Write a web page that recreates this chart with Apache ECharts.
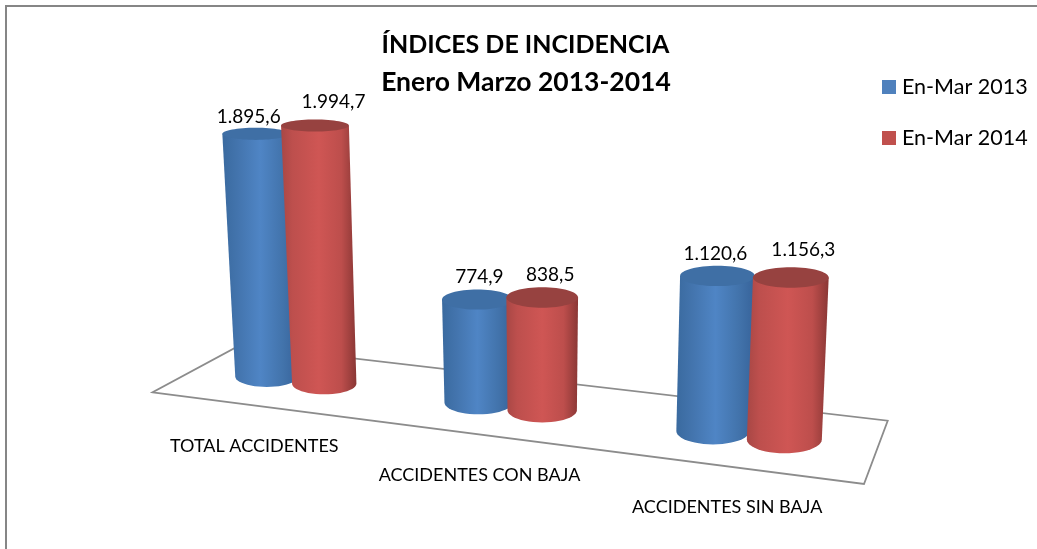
<!DOCTYPE html>
<html>
<head>
<meta charset="utf-8">
<style>html,body{margin:0;padding:0;background:#fff}#c{width:1037px;height:549px}</style>
<script src="https://cdn.jsdelivr.net/npm/echarts@6/dist/echarts.min.js"></script>
</head>
<body>
<div id="c"></div>
<script>
const categories = ['TOTAL ACCIDENTES', 'ACCIDENTES CON BAJA', 'ACCIDENTES SIN BAJA'];
const seriesNames = ['En-Mar 2013', 'En-Mar 2014'];
const values2013 = [1895.6, 774.9, 1120.6];
const values2014 = [1994.7, 838.5, 1156.3];
const titleLines = ['ÍNDICES DE INCIDENCIA', 'Enero Marzo 2013-2014'];

// Perspective frame of the 3D floor: front-left, front-right, back-right, back-left
const floorQuad = [[152.7, 392.3], [864, 484], [887.7, 420.7], [240, 345.2]];
const plotGrid = { left: 196, width: 680, top: 100, height: 280 };
const FONT = 'Lato';
const palette = ['#4F81BD', '#C0504D'];
const bodyStops = [
  [[0, '#3a6a9f'], [0.2, '#4374ad'], [0.5, '#4f85c5'], [0.8, '#4273ab'], [1, '#37639a']],
  [[0, '#a84745'], [0.15, '#bd4f4d'], [0.5, '#cf5654'], [0.8, '#bd4e4c'], [1, '#8a3735']]
];
const capColors = ['#3f6fa5', '#974240'];
// small per-bar pixel tweaks of the projection and of the value labels
const barShift = [[-4, -4], [-5, -4], [-3, -0.5]];
const labelNudge = [[[-7, 4], [18.5, -3]], [[2, 2], [8, 3]], [[-2, 3.5], [12.5, -2]]];

function homography(q) {
  const [x0, y0] = q[0], [x1, y1] = q[1], [x2, y2] = q[2], [x3, y3] = q[3];
  const dx1 = x1 - x2, dx2 = x3 - x2, sx = x0 - x1 + x2 - x3;
  const dy1 = y1 - y2, dy2 = y3 - y2, sy = y0 - y1 + y2 - y3;
  const den = dx1 * dy2 - dx2 * dy1;
  const g = (sx * dy2 - dx2 * sy) / den, h = (dx1 * sy - sx * dy1) / den;
  const a = x1 - x0 + g * x1, b = x3 - x0 + h * x3, d = y1 - y0 + g * y1, e = y3 - y0 + h * y3;
  return (u, v) => {
    const w = g * u + h * v + 1;
    return [(a * u + b * v + x0) / w, (d * u + e * v + y0) / w];
  };
}
const project = homography(floorQuad);
const lerp = (a, b, t) => a + (b - a) * t;
const formatEs = v => {
  const [i, f] = v.toFixed(1).split('.');
  return i.replace(/\B(?=(\d{3})+$)/g, '.') + ',' + f;
};

function cylinderItem(seriesIdx) {
  return function (params, api) {
    const cat = api.value(0), val = api.value(1);
    const base = api.coord([cat, 0]), top = api.coord([cat, val]);
    const u = (base[0] - plotGrid.left) / plotGrid.width + (seriesIdx === 0 ? -0.0465 : 0.0465);
    const p = project(u, 0.5);
    p[0] += barShift[cat][seriesIdx];
    const d = (p[0] - 266) / (784 - 266);
    const h = (base[1] - top[1]) * lerp(0.128, 0.140, d) / 0.14;
    const r = lerp(31.5, 37.5, d);
    const rTop = r * lerp(1.06, 1.01, d);
    const leanX = p[0] + (p[0] - 542) * 1.65e-4 * h;
    const topY = p[1] - h;
    const ryBase = r * (0.10 + 0.00062 * p[1]);
    const ryTop = rTop * (0.10 + 0.00062 * topY);
    const pts = [[leanX - rTop, topY], [leanX + rTop, topY]];
    for (let i = 0; i <= 24; i++) {
      const t = Math.PI * i / 24;
      pts.push([p[0] + r * Math.cos(t), p[1] + ryBase * Math.sin(t)]);
    }
    const nudge = labelNudge[cat][seriesIdx];
    return {
      type: 'group',
      children: [
        {
          type: 'polygon',
          shape: { points: pts },
          style: {
            fill: new echarts.graphic.LinearGradient(0, 0, 1, 0,
              bodyStops[seriesIdx].map(s => ({ offset: s[0], color: s[1] })))
          }
        },
        {
          type: 'ellipse',
          shape: { cx: leanX, cy: topY, rx: rTop, ry: ryTop },
          style: { fill: capColors[seriesIdx] }
        },
        {
          type: 'text',
          x: leanX + nudge[0],
          y: topY - ryTop - 15 + nudge[1],
          style: {
            text: formatEs(val), fill: '#000', font: '19px ' + FONT,
            align: 'center', verticalAlign: 'middle'
          }
        }
      ]
    };
  };
}

function categoryLabelItem(params, api) {
  const cat = api.value(0);
  const base = api.coord([cat, 0]);
  const p = project((base[0] - plotGrid.left) / plotGrid.width, 0);
  return {
    type: 'text',
    x: p[0] - 3.5, y: p[1] + 40,
    style: {
      text: categories[cat], fill: '#000', font: '18px ' + FONT,
      align: 'center', verticalAlign: 'middle'
    }
  };
}

const chart = echarts.init(document.getElementById('c'), null, { renderer: 'canvas' });
chart.setOption({
  animation: false,
  backgroundColor: '#fff',
  color: palette,
  title: [
    { text: titleLines[0], left: 525.5, top: 30, textAlign: 'center', padding: 0,
      textStyle: { fontFamily: FONT, fontWeight: 'bold', fontSize: 25, lineHeight: 30, color: '#000' } },
    { text: titleLines[1], left: 526, top: 67.5, textAlign: 'center', padding: 0,
      textStyle: { fontFamily: FONT, fontWeight: 'bold', fontSize: 26.5, lineHeight: 30, color: '#000' } }
  ],
  legend: {
    data: seriesNames,
    orient: 'vertical',
    left: 882, top: 76, padding: 0,
    itemWidth: 14, itemHeight: 14, itemGap: 29,
    icon: 'rect',
    textStyle: { fontFamily: FONT, fontSize: 21.5, color: '#000', padding: [0, 0, 0, 1] }
  },
  grid: plotGrid,
  xAxis: { type: 'category', data: categories, show: false },
  yAxis: { type: 'value', min: 0, max: 2000, show: false },
  graphic: [
    { type: 'polyline', z: 0, shape: { points: [[6, 549], [6, 6], [1037, 6]] },
      style: { fill: null, stroke: '#868686', lineWidth: 2 } },
    { type: 'polygon', z: 0, shape: { points: floorQuad },
      style: { fill: '#fff', stroke: '#8c8c8c', lineWidth: 1.8 } }
  ],
  series: [
    { type: 'custom', name: seriesNames[0], coordinateSystem: 'cartesian2d', z: 3,
      renderItem: cylinderItem(0), data: values2013.map((v, i) => [i, v]) },
    { type: 'custom', name: seriesNames[1], coordinateSystem: 'cartesian2d', z: 4,
      renderItem: cylinderItem(1), data: values2014.map((v, i) => [i, v]) },
    { type: 'custom', name: 'labels', coordinateSystem: 'cartesian2d', z: 5,
      renderItem: categoryLabelItem, data: categories.map((c, i) => [i, 0]) }
  ]
});
</script>
</body>
</html>
